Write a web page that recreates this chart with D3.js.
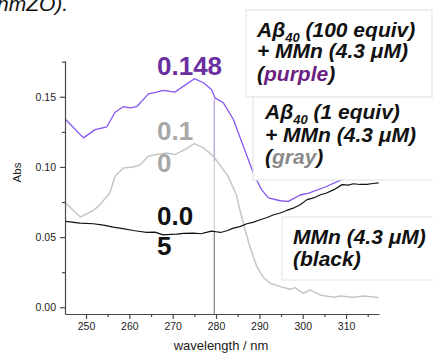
<!DOCTYPE html>
<html><head><meta charset="utf-8">
<script src="https://cdn.jsdelivr.net/npm/d3@7"></script>
<style>
html,body{margin:0;padding:0;background:#fff;}
svg{display:block;font-family:"Liberation Sans",Arial,sans-serif;}
</style></head>
<body>
<svg id="c" width="433" height="354"></svg>
<script>
// ---- data ----
const wavePurple = [245.3,249.4,252.1,254.8,256.7,258.6,260.2,261.7,264.4,266.3,267.8,270.5,275.0,277.1,279.0,279.8,281.7,284.0,286.3,288.6,290.5,292.1,294.8,296.7,299.4,301.4,305.2,309.0,311.0,314.0,317.5];
const absPurple  = [0.1338,0.1207,0.1266,0.1286,0.1390,0.1429,0.1421,0.1429,0.1521,0.1533,0.1545,0.1533,0.1629,0.1600,0.1550,0.1490,0.1457,0.1338,0.1147,0.0957,0.0838,0.0779,0.0759,0.0755,0.0800,0.0814,0.0857,0.0909,0.0930,0.0960,0.0980];
const waveGray = [245.3,248.7,251.7,253.2,255.5,256.7,258.6,260.9,262.5,264.4,266.3,268.6,270.5,272.8,275.0,277.1,279.4,280.5,282.8,284.7,285.5,286.7,287.8,289.4,290.9,292.5,294.8,297.1,298.3,299.0,300.2,301.7,304.0,307.1,308.6,311.7,314.0,317.5];
const absGray  = [0.0743,0.0643,0.0690,0.0730,0.0814,0.0933,0.0993,0.1000,0.1016,0.1076,0.1088,0.1100,0.1088,0.1124,0.1166,0.1136,0.1076,0.1030,0.0933,0.0800,0.0695,0.0552,0.0433,0.0290,0.0214,0.0171,0.0147,0.0129,0.0140,0.0120,0.0100,0.0124,0.0088,0.0071,0.0080,0.0071,0.0080,0.0069];
const waveBlack = [245.3,248.6,251.7,254.0,256.3,258.5,260.9,262.5,264.0,265.9,267.8,269.5,270.9,272.5,274.8,276.5,278.0,279.0,280.0,281.0,282.5,284.0,285.5,287.1,288.5,290.2,291.8,293.3,294.8,296.3,297.8,299.4,301.0,302.5,304.1,305.5,307.2,309.1,310.5,311.7,313.2,314.8,316.2,317.5];
const absBlack  = [0.0612,0.0600,0.0595,0.0585,0.0571,0.0560,0.0547,0.0540,0.0533,0.0535,0.0516,0.0520,0.0521,0.0527,0.0529,0.0524,0.0535,0.0543,0.0538,0.0533,0.0545,0.0564,0.0575,0.0595,0.0605,0.0624,0.0640,0.0659,0.0672,0.0690,0.0706,0.0730,0.0767,0.0779,0.0802,0.0814,0.0838,0.0874,0.0870,0.0880,0.0875,0.0876,0.0882,0.0886];
const xTicks = [250,260,270,280,290,300,310];
const xMinor = [255,265,275,285,295,305,315];
const yTicks = [0.00,0.05,0.10,0.15];
const yMinor = [0.025,0.075,0.125,0.175];
const markWave = 279.6;
const markVals = [0.148, 0.104, 0.054];
const valueLabels = [["0.148"],["0.1","0"],["0.0","5"]];
const xTitle = "wavelength / nm";
const yTitle = "Abs";

// ---- scales ----
const svg = d3.select("#c");
const x = d3.scaleLinear().domain([245.15,317.6]).range([65,379]);
const y = d3.scaleLinear().domain([-0.0048,0.1757]).range([314,60.7]);
const axisColor = "#4a4a4a";

// top clipped caption
svg.append("text").attr("x",-3).attr("y",11).attr("font-size",21).attr("font-style","italic")
  .attr("fill","#111").text("nmZO).");

// vertical marker line segments
const segs = [[markVals[0],markVals[1],"#b9a3e3"],[markVals[1],markVals[2],"#d2d2d2"],[markVals[2],y.domain()[0],"#8c8c8c"]];
segs.forEach(s=>{
  svg.append("line").attr("x1",x(markWave)).attr("x2",x(markWave))
    .attr("y1",y(s[0])).attr("y2",y(s[1])).attr("stroke",s[2]).attr("stroke-width",1.3);
});

// curves
const line = d3.line().x(d=>x(d[0])).y(d=>y(d[1]));
function curve(w,a,color,wd){
  svg.append("path").datum(w.map((v,i)=>[v,a[i]])).attr("d",line)
    .attr("fill","none").attr("stroke",color).attr("stroke-width",wd).attr("stroke-linejoin","round");
}
curve(waveGray,absGray,"#c6c6c6",1.5);
curve(waveBlack,absBlack,"#111",1.2);
curve(wavePurple,absPurple,"#8655f0",1.3);

// axes
const gx = svg.append("g").attr("transform","translate(0,314)");
gx.call(d3.axisBottom(x).tickValues(xTicks).tickSize(5).tickSizeOuter(0).tickPadding(4).tickFormat(d3.format("d")));
const gxm = svg.append("g").attr("transform","translate(0,314)");
gxm.call(d3.axisBottom(x).tickValues(xMinor.filter(v=>v<x.domain()[1])).tickSize(3).tickSizeOuter(0).tickFormat(""));
gxm.select(".domain").remove();
const gy = svg.append("g").attr("transform","translate(65,0)");
gy.call(d3.axisLeft(y).tickValues(yTicks).tickSize(5).tickSizeOuter(0).tickPadding(4).tickFormat(d3.format(".2f")));
const gym = svg.append("g").attr("transform","translate(65,0)");
gym.call(d3.axisLeft(y).tickValues(yMinor).tickSize(3).tickSizeOuter(0).tickFormat(""));
gym.select(".domain").remove();
[gx,gxm,gy,gym].forEach(g=>{
  g.selectAll("path,line").attr("stroke",axisColor).attr("stroke-width",1.2);
  g.selectAll("text").attr("font-size",10.5).attr("fill","#222").attr("font-family","Liberation Sans, Arial, sans-serif");
});

svg.append("text").attr("x",221).attr("y",350).attr("text-anchor","middle").attr("font-size",13).attr("fill","#222").text(xTitle);
svg.append("text").attr("transform","translate(21,172.5) rotate(-90)").attr("text-anchor","middle").attr("font-size",11.5).attr("fill","#222").text(yTitle);

// value labels
const vl = [
  {t:valueLabels[0], x:157, y:[75], c:"#6a2fa0"},
  {t:valueLabels[1], x:157, y:[140,172], c:"#a8a8a8"},
  {t:valueLabels[2], x:157, y:[225,255], c:"#111"}
];
vl.forEach(v=>{
  v.t.forEach((s,i)=>{
    svg.append("text").attr("x",v.x).attr("y",v.y[i]).attr("font-size",26).attr("font-weight","bold")
      .attr("fill",v.c).text(s);
  });
});

// legend boxes
function box(x0,y0,x1,y1){
  svg.append("rect").attr("x",x0).attr("y",y0).attr("width",x1-x0).attr("height",y1-y0)
    .attr("fill","#fff").attr("stroke","#e2e2e2").attr("stroke-width",1);
}
function legendLine(tx,ty,parts){
  const t = svg.append("text").attr("x",tx).attr("y",ty).attr("font-size",21).attr("font-weight","bold")
    .attr("font-style","italic").attr("fill","#111");
  parts.forEach(p=>{
    const ts = t.append("tspan").text(p.s);
    if(p.c) ts.attr("fill",p.c);
    if(p.sub){ ts.attr("font-size",13).attr("dy",5); }
    if(p.up){ ts.attr("dy",-5); }
  });
}
box(246,10,432,97);
legendLine(257,37,[{s:"Aβ"},{s:"40",sub:true},{s:"\u00a0(100 equiv)",up:true}]);
legendLine(257,58,[{s:"+ MMn (4.3 μM)"}]);
legendLine(257,81,[{s:"("},{s:"purple",c:"#6b1f80"},{s:")"}]);
box(253,97,440,180);
legendLine(265,119,[{s:"Aβ"},{s:"40",sub:true},{s:"\u00a0(1 equiv)",up:true}]);
legendLine(265,142,[{s:"+ MMn (4.3 μM)"}]);
legendLine(265,164,[{s:"("},{s:"gray",c:"#8a8a8a"},{s:")"}]);
box(282,217,440,280);
legendLine(293,244,[{s:"MMn (4.3 μM)"}]);
legendLine(293,266,[{s:"(black)"}]);
</script>
</body></html>
